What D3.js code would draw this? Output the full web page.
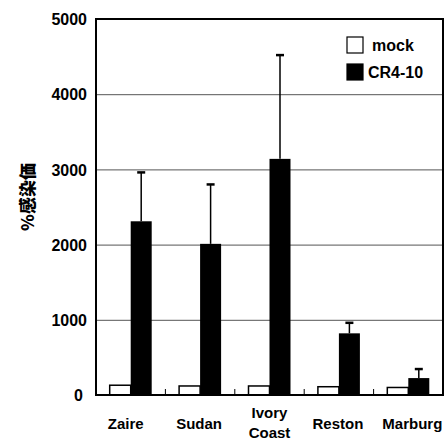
<!DOCTYPE html>
<html>
<head>
<meta charset="utf-8">
<script src="https://cdn.jsdelivr.net/npm/d3@7"></script>
<style>
  html, body { margin: 0; padding: 0; background: #fff; }
  svg { display: block; }
  text { font-family: "Liberation Sans", Arial, sans-serif; font-weight: bold; fill: #000; }
</style>
</head>
<body>
<div id="chart"></div>
<script>
// values
const categories = ['Zaire', 'Sudan', 'Ivory Coast', 'Reston', 'Marburg'];
const mockValues = [130, 120, 120, 110, 100];
const crValues = [2310, 2010, 3140, 820, 225];
const crErrors = [650, 790, 1380, 140, 120];
const yTicks = [0, 1000, 2000, 3000, 4000, 5000];
const seriesNames = ['mock', 'CR4-10'];

const width = 448, height = 441;
const margin = { top: 19, right: 5, bottom: 46, left: 96 };
const plotW = width - margin.left - margin.right;
const plotH = height - margin.top - margin.bottom;

const svg = d3.select('#chart').append('svg')
    .attr('width', width)
    .attr('height', height);

const g = svg.append('g').attr('transform', `translate(${margin.left},${margin.top})`);

const x = d3.scaleBand().domain(categories).range([0, plotW]).padding(0);
const y = d3.scaleLinear().domain([0, 5000]).range([plotH, 0]);
const barW = 21;

// gridlines
g.append('g')
    .call(d3.axisLeft(y).tickValues(yTicks.slice(1, -1)).tickSize(-plotW).tickFormat(''))
    .call(a => a.select('.domain').remove())
    .selectAll('line').attr('stroke', '#555').attr('stroke-width', 1);

// y tick labels
g.append('g')
    .call(d3.axisLeft(y).tickValues(yTicks).tickSize(0).tickPadding(9).tickFormat(d3.format('d')))
    .call(a => a.select('.domain').remove())
    .selectAll('text')
    .style('font-size', '16px')
    .attr('dy', '0.35em')
    .attr('dx', d => d === 0 ? -4 : 0);

// y title
svg.append('text')
    .attr('transform', 'translate(28,197) rotate(-90)')
    .attr('text-anchor', 'middle')
    .attr('dy', '0.35em')
    .style('font-family', '"Noto Sans CJK JP", sans-serif')
    .style('font-weight', '900')
    .style('font-size', '17px')
    .text('%感染価');

// mock bars
g.selectAll('.mock').data(categories).join('rect')
    .attr('class', 'mock')
    .attr('x', d => x(d) + x.bandwidth() / 2 - barW)
    .attr('y', (d, i) => y(mockValues[i]))
    .attr('width', barW)
    .attr('height', (d, i) => plotH - y(mockValues[i]))
    .attr('fill', '#fff')
    .attr('stroke', '#000')
    .attr('stroke-width', 1.5);

// error bars (upper only)
const err = g.selectAll('.err').data(categories).join('g').attr('class', 'err');
err.append('line')
    .attr('x1', d => x(d) + x.bandwidth() / 2 + barW / 2)
    .attr('x2', d => x(d) + x.bandwidth() / 2 + barW / 2)
    .attr('y1', (d, i) => y(crValues[i]))
    .attr('y2', (d, i) => y(crValues[i] + crErrors[i]))
    .attr('stroke', '#000').attr('stroke-width', 1.5);
err.append('line')
    .attr('x1', d => x(d) + x.bandwidth() / 2 + barW / 2 - 4)
    .attr('x2', d => x(d) + x.bandwidth() / 2 + barW / 2 + 4)
    .attr('y1', (d, i) => y(crValues[i] + crErrors[i]))
    .attr('y2', (d, i) => y(crValues[i] + crErrors[i]))
    .attr('stroke', '#000').attr('stroke-width', 2.5);

// CR4-10 bars
g.selectAll('.cr').data(categories).join('rect')
    .attr('class', 'cr')
    .attr('x', d => x(d) + x.bandwidth() / 2)
    .attr('y', (d, i) => y(crValues[i]))
    .attr('width', barW)
    .attr('height', (d, i) => plotH - y(crValues[i]))
    .attr('fill', '#000');

// small separator ticks between groups
g.selectAll('.sep').data(categories.slice(1)).join('line')
    .attr('x1', d => x(d)).attr('x2', d => x(d))
    .attr('y1', plotH).attr('y2', plotH - 6)
    .attr('stroke', '#000').attr('stroke-width', 1);

// frame
g.append('rect')
    .attr('width', plotW).attr('height', plotH)
    .attr('fill', 'none').attr('stroke', '#000').attr('stroke-width', 2);

// x labels
const xl = g.append('g').selectAll('text').data(categories).join('text')
    .attr('text-anchor', 'middle')
    .style('font-size', '15px')
    .attr('x', (d, i) => x(d) + x.bandwidth() / 2 + [-5, -1, 0, -1, 4][i]);
xl.each(function (d) {
    const parts = d.split(' ');
    const t = d3.select(this);
    if (parts.length === 1) {
        t.append('tspan').attr('x', t.attr('x')).attr('y', plotH + 34).text(d);
    } else {
        parts.forEach((p, i) => t.append('tspan').attr('x', t.attr('x')).attr('y', plotH + 23 + i * 20).text(p));
    }
});

// legend
const leg = svg.append('g').attr('transform', 'translate(347,37)');
seriesNames.forEach((name, i) => {
    const row = leg.append('g').attr('transform', `translate(0,${i * 27})`);
    row.append('rect')
        .attr('width', 16).attr('height', 16)
        .attr('fill', i === 0 ? '#fff' : '#000')
        .attr('stroke', '#000').attr('stroke-width', 1.2);
    row.append('text')
        .attr('x', i === 0 ? 25 : 21).attr('y', 14)
        .style('font-size', '16px')
        .text(name);
});
</script>
</body>
</html>
